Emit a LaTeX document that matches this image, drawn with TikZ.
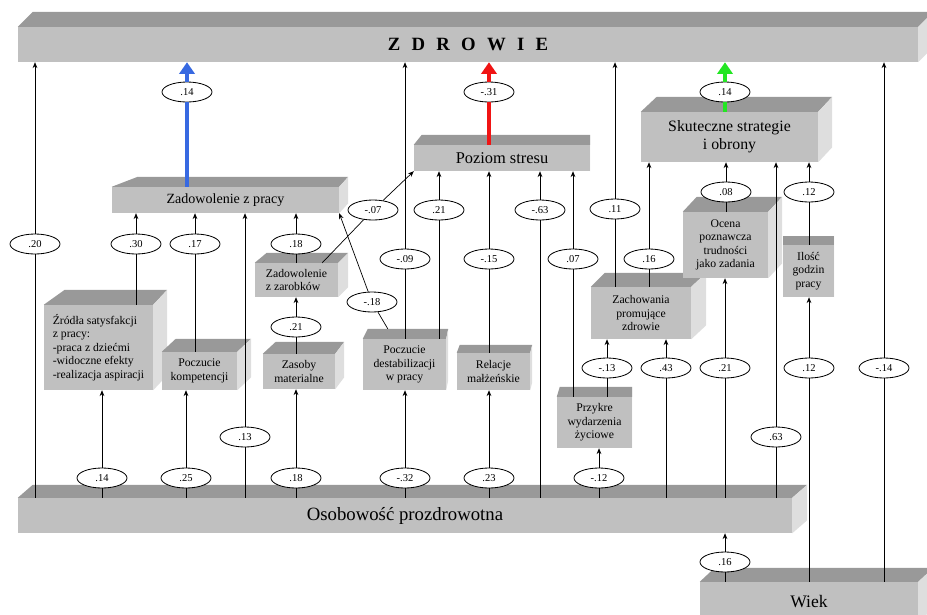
\documentclass[tikz,border=0pt]{standalone}
\usepackage{fontspec}
\setmainfont{Liberation Serif}
\usetikzlibrary{calc,arrows.meta,shapes.geometric}
\newlength{\px}
\setlength{\px}{0.3mm}
\definecolor{przod}{RGB}{192,192,192}
\definecolor{gora}{RGB}{153,153,153}
\definecolor{bok}{RGB}{222,222,222}
\definecolor{niebieski}{RGB}{55,105,225}
\definecolor{czerwony}{RGB}{240,20,20}
\definecolor{zielony}{RGB}{35,230,35}
\tikzset{
  kostka/.style={fill=przod, inner sep=0pt, align=center, font=\fontsize{10}{11.5}\selectfont},
  wsp/.style={ellipse, draw, fill=white, line width=0.7pt, minimum width=50\px, minimum height=20\px, inner sep=0pt, font=\fontsize{9}{10}\selectfont},
  strz/.style={line width=0.6pt, -{Stealth[length=5pt,width=4pt]}},
  grube/.style={line width=4.2pt, -{Triangle[length=10pt,width=13pt]}}
}
\newcommand{\bryla}[4]{%
  \fill[gora] (#1.north west) -- ++(#2,-#4) -- ($(#1.north east)+(#3,-#4)$) -- (#1.north east) -- cycle;
  \fill[bok] (#1.north east) -- ++(#3,-#4) -- ($(#1.south east)+(#3,-#4)$) -- (#1.south east) -- cycle;}

\begin{document}
\begin{tikzpicture}[x=0.3mm,y=-0.3mm]
\useasboundingbox (0,0) rectangle (927,614);

\node[kostka, minimum width=900\px, minimum height=35\px, font=\fontsize{16}{18}\selectfont\bfseries] (zdr) at (468,44.5) {Z\hspace{.6em}D\hspace{.6em}R\hspace{.6em}O\hspace{.6em}W\hspace{.6em}I\hspace{.6em}E};
\bryla{zdr}{15}{15}{15}
\node[kostka, minimum width=774\px, minimum height=35\px, font=\fontsize{16}{18}\selectfont] (oso) at (405,515.5) {Osobowość prozdrowotna};
\bryla{oso}{15}{15}{13}
\node[kostka, minimum width=218\px, minimum height=40\px, font=\fontsize{15}{18}\selectfont] (wiek) at (809,602) {Wiek};
\bryla{wiek}{15}{15}{14}
\node[kostka, minimum width=227\px, minimum height=26\px, font=\fontsize{12}{14}\selectfont] (zad) at (225.5,200) {Zadowolenie z pracy};
\bryla{zad}{26}{9}{10}
\node[kostka, minimum width=176\px, minimum height=26\px, font=\fontsize{14}{16}\selectfont] (poz) at (502,158) {Poziom stresu};
\bryla{poz}{8}{0}{10}
\node[kostka, minimum width=177\px, minimum height=50\px, font=\fontsize{13.5}{15.5}\selectfont] (sku) at (729.5,137) {Skuteczne strategie\\i obrony};
\bryla{sku}{16}{14}{15}
\node[kostka, minimum width=109\px, minimum height=85\px, align=left] (zro) at (98.5,347.5) {Źródła satysfakcji\\z pracy:\\-praca z dziećmi\\-widoczne efekty\\-realizacja aspiracji};
\bryla{zro}{21}{14}{15}
\node[kostka, minimum width=75\px, minimum height=38\px] (kom) at (199.5,371) {Poczucie\\kompetencji};
\bryla{kom}{14}{14}{13}
\node[kostka, minimum width=83\px, minimum height=34\px, align=left] (zar) at (296.5,280) {Zadowolenie\\z zarobków};
\bryla{zar}{12}{10}{10}
\node[kostka, minimum width=72\px, minimum height=35\px] (mat) at (299,371.5) {Zasoby\\materialne};
\bryla{mat}{13}{9}{12}
\node[kostka, minimum width=83\px, minimum height=51\px] (des) at (404.5,364.5) {Poczucie\\destabilizacji\\w pracy};
\bryla{des}{5}{2}{10}
\node[kostka, minimum width=73\px, minimum height=37\px] (rel) at (493.5,371.5) {Relacje\\małżeńskie};
\bryla{rel}{3}{2}{8}
\node[kostka, minimum width=75\px, minimum height=51\px] (prz) at (594.5,422.5) {Przykre\\wydarzenia\\życiowe};
\bryla{prz}{3}{0}{10}
\node[kostka, minimum width=100\px, minimum height=52\px] (zach) at (641,313) {Zachowania\\promujące\\zdrowie};
\bryla{zach}{14}{15}{14}
\node[kostka, minimum width=85\px, minimum height=66\px] (oce) at (725.5,245) {Ocena\\poznawcza\\trudności\\jako zadania};
\bryla{oce}{14}{14}{15}
\node[kostka, minimum width=51\px, minimum height=52\px] (ilo) at (808.5,271) {Ilość\\godzin\\pracy};
\bryla{ilo}{0}{0}{9}

\node[wsp] (zadzdr) at (187,92) {.14};
\node[wsp] (pozzdr) at (489,92) {-.31};
\node[wsp] (skuzdr) at (725,92) {.14};
\node[wsp] (osozdr) at (35,244) {.20};
\node[wsp] (zrozad) at (136,244) {.30};
\node[wsp] (komzad) at (195,244) {.17};
\node[wsp] (zarzad) at (296,244) {.18};
\node[wsp] (matzar) at (296,327) {.21};
\node[wsp] (zarpoz) at (373,210) {-.07};
\node[wsp] (deszad) at (372,302) {-.18};
\node[wsp] (deszdr) at (405,259) {-.09};
\node[wsp] (despoz) at (439,210) {.21};
\node[wsp] (relpoz) at (489,259) {-.15};
\node[wsp] (osopoz) at (540,210) {-.63};
\node[wsp] (przpoz) at (573,259) {.07};
\node[wsp] (zachzdr) at (615,209) {.11};
\node[wsp] (zachsku) at (649,259) {.16};
\node[wsp] (ocesku) at (726,192) {.08};
\node[wsp] (ilosku) at (809,192) {.12};
\node[wsp] (przzach) at (607,368) {-.13};
\node[wsp] (osozach) at (666,368) {.43};
\node[wsp] (osooce) at (725,368) {.21};
\node[wsp] (wiekilo) at (809,368) {.12};
\node[wsp] (wiekzdr) at (884,368) {-.14};
\node[wsp] (osozad) at (245,437) {.13};
\node[wsp] (ososku) at (776,437) {.63};
\node[wsp] (osozro) at (102,478) {.14};
\node[wsp] (osokom) at (186,478) {.25};
\node[wsp] (osomat) at (296,478) {.18};
\node[wsp] (osodes) at (405,478) {-.32};
\node[wsp] (osorel) at (489,478) {.23};
\node[wsp] (osoprz) at (599,478) {-.12};
\node[wsp] (wiekoso) at (725,562) {.16};

\draw[grube, niebieski] (zad.north -| zadzdr) -- (zadzdr) -- (zdr.south -| zadzdr);
\draw[grube, czerwony] (poz.north -| pozzdr) -- (pozzdr) -- (zdr.south -| pozzdr);
\draw[grube, zielony] (sku.north -| skuzdr) -- (skuzdr) -- (zdr.south -| skuzdr);

\draw[strz] (oso.north -| osozdr) -- (osozdr) -- (zdr.south -| osozdr);
\draw[strz] (zro.north -| zrozad) -- (zrozad) -- (zad.south -| zrozad);
\draw[strz] (kom.north -| komzad) -- (komzad) -- (zad.south -| komzad);
\draw[strz] (zar.north -| zarzad) -- (zarzad) -- (zad.south -| zarzad);
\draw[strz] (mat.north -| matzar) -- (matzar) -- (zar.south -| matzar);
\draw[strz] ($(zar.north east)+(-16,0)$) -- (zarpoz) -- (poz.south west);
\draw[strz] ($(des.north west)+(25,-10)$) -- (deszad) -- (zad.south east);
\draw[strz] (des.north -| deszdr) -- (deszdr) -- (zdr.south -| deszdr);
\draw[strz] (des.north -| despoz) -- (despoz) -- (poz.south -| despoz);
\draw[strz] (rel.north -| relpoz) -- (relpoz) -- (poz.south -| relpoz);
\draw[strz] (oso.north -| osopoz) -- (osopoz) -- (poz.south -| osopoz);
\draw[strz] (prz.north -| przpoz) -- (przpoz) -- (poz.south -| przpoz);
\draw[strz] (zach.north -| zachzdr) -- (zachzdr) -- (zdr.south -| zachzdr);
\draw[strz] (zach.north -| zachsku) -- (zachsku) -- (sku.south -| zachsku);
\draw[strz] (oce.north -| ocesku) -- (ocesku) -- (sku.south -| ocesku);
\draw[strz] (ilo.north -| ilosku) -- (ilosku) -- (sku.south -| ilosku);
\draw[strz] (prz.north -| przzach) -- (przzach) -- (zach.south -| przzach);
\draw[strz] (oso.north -| osozach) -- (osozach) -- (zach.south -| osozach);
\draw[strz] (oso.north -| osooce) -- (osooce) -- (oce.south -| osooce);
\draw[strz] (wiek.north -| wiekilo) -- (wiekilo) -- (ilo.south -| wiekilo);
\draw[strz] (wiek.north -| wiekzdr) -- (wiekzdr) -- (zdr.south -| wiekzdr);
\draw[strz] (oso.north -| osozad) -- (osozad) -- (zad.south -| osozad);
\draw[strz] (oso.north -| ososku) -- (ososku) -- (sku.south -| ososku);
\draw[strz] (oso.north -| osozro) -- (osozro) -- (zro.south -| osozro);
\draw[strz] (oso.north -| osokom) -- (osokom) -- (kom.south -| osokom);
\draw[strz] (oso.north -| osomat) -- (osomat) -- (mat.south -| osomat);
\draw[strz] (oso.north -| osodes) -- (osodes) -- (des.south -| osodes);
\draw[strz] (oso.north -| osorel) -- (osorel) -- (rel.south -| osorel);
\draw[strz] (oso.north -| osoprz) -- (osoprz) -- (prz.south -| osoprz);
\draw[strz] (wiek.north -| wiekoso) -- (wiekoso) -- (oso.south -| wiekoso);
\end{tikzpicture}
\end{document}
